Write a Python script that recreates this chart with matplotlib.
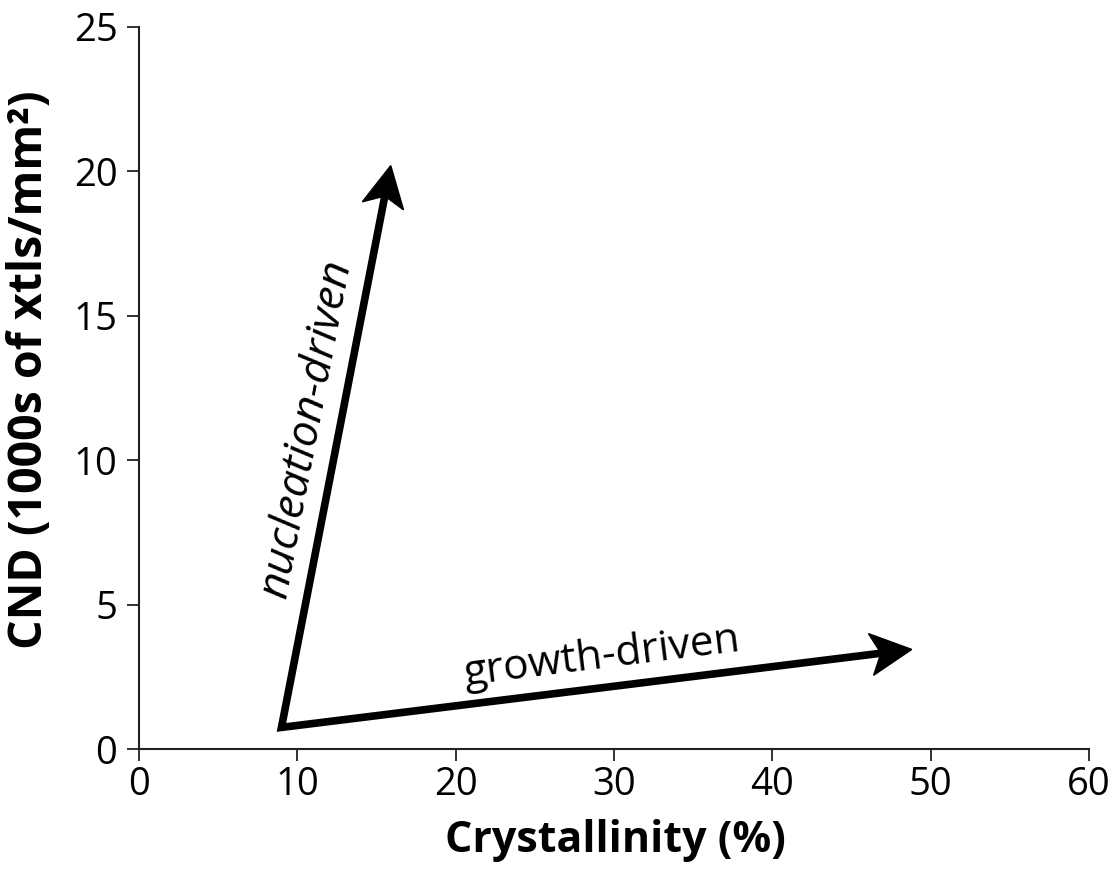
import matplotlib
matplotlib.use('Agg')
import matplotlib.pyplot as plt
import numpy as np
from matplotlib.patches import Polygon

plt.rcParams['font.family'] = ['Open Sans', 'DejaVu Sans']

# arrow geometry (data units)
origin = (9.0, 0.75)
nucleation_tip = (15.9, 20.2)
growth_tip = (48.8, 3.45)

labels = ['nucleation-driven', 'growth-driven']
label_pos = [(10.6, 11.1), (29.2, 3.2)]

xticks = [0, 10, 20, 30, 40, 50, 60]
yticks = [0, 5, 10, 15, 20, 25]

fig = plt.figure(figsize=(11.17, 8.69), dpi=100)
ax = fig.add_axes([0.1244, 0.138, 0.8506, 0.831])
ax.set_xlim(0, 60)
ax.set_ylim(0, 25)

# arrowheads drawn in pixel space so they keep their shape
head_len, head_half, notch = 41, 21, 10
o = ax.transData.transform(origin)
shaft_ends = []
for tip in (nucleation_tip, growth_tip):
    t = ax.transData.transform(tip)
    d = (t - o) / np.linalg.norm(t - o)
    n = np.array([-d[1], d[0]])
    back = t - d * head_len
    verts = [t, back + n * head_half, t - d * (head_len - notch), back - n * head_half]
    ax.add_patch(Polygon(verts, closed=True, color='black', transform=None, zorder=3))
    shaft_ends.append(ax.transData.inverted().transform(t - d * (head_len - notch - 2)))

ax.plot([shaft_ends[0][0], origin[0], shaft_ends[1][0]],
        [shaft_ends[0][1], origin[1], shaft_ends[1][1]],
        color='black', lw=5.5, solid_joinstyle='miter', solid_capstyle='butt', zorder=3)

ax.text(*label_pos[0], labels[0], rotation=79.2, fontsize=32, style='italic',
        ha='center', va='center', rotation_mode='anchor')
ax.text(*label_pos[1], labels[1], rotation=7.1, fontsize=30.5,
        ha='center', va='center', rotation_mode='anchor')

ax.set_xticks(xticks)
ax.set_yticks(yticks)
for s in ('top', 'right'):
    ax.spines[s].set_visible(False)
for s in ('left', 'bottom'):
    ax.spines[s].set_linewidth(1.5)
    ax.spines[s].set_color('#222222')
ax.tick_params(labelsize=27.5, length=8.5, width=1.3, color='#222222')
ax.tick_params(axis='x', pad=4)
ax.tick_params(axis='y', pad=7)
ax.set_xlabel('Crystallinity (%)', fontsize=31, fontweight='bold')
ax.set_ylabel('CND (1000s of xtls/mm²)', fontsize=33.5, fontweight='bold')
ax.xaxis.set_label_coords(0.501, -0.097)
ax.yaxis.set_label_coords(-0.09, 0.525)

fig.savefig('out.png', dpi=100)
